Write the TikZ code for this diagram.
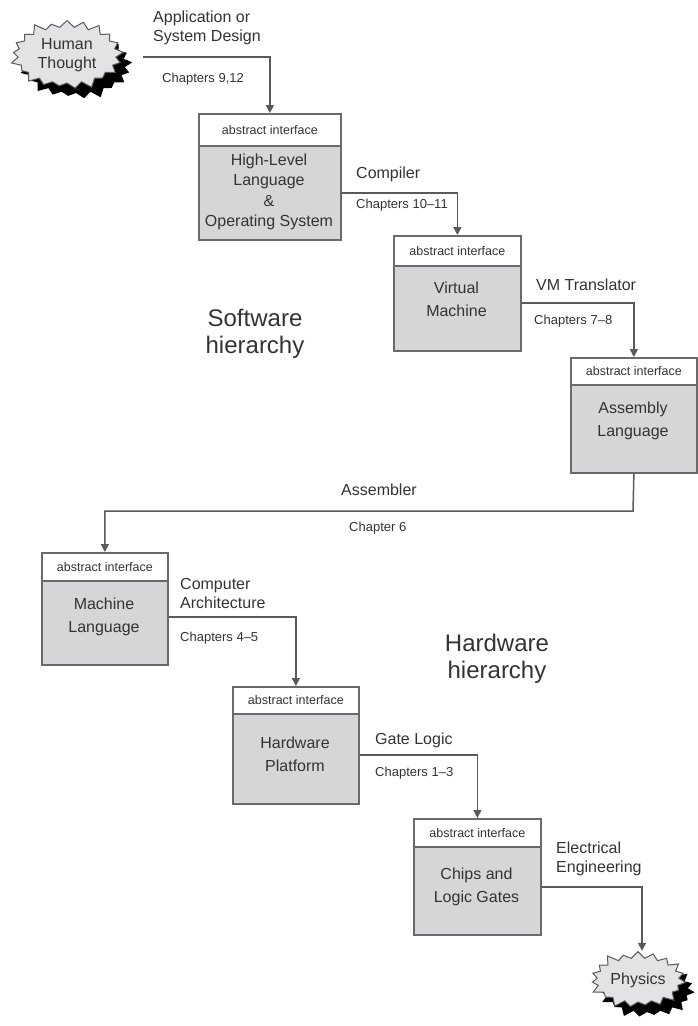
\documentclass[tikz,border=0pt]{standalone}
\usepackage{fontspec}
\setmainfont{Liberation Sans}
\usetikzlibrary{shapes.symbols,arrows.meta,shadows}
\definecolor{linec}{HTML}{5A5A5A}
\definecolor{boxline}{HTML}{6A6A6A}
\definecolor{boxfill}{HTML}{D6D6D9}
\definecolor{txt}{HTML}{333333}
\definecolor{burstfill}{HTML}{E3E3E5}
\begin{document}
\begin{tikzpicture}[x=1pt,y=-1pt,
  conn/.style={draw=linec, line width=1.5pt, -{Triangle[length=8pt,width=8pt]}},
  hdr/.style={draw=boxline, line width=1.8pt, fill=white, anchor=north west,
    inner sep=0pt, text=txt, font=\fontsize{12.5}{15}\selectfont},
  bodybox/.style={draw=boxline, line width=1.8pt, fill=boxfill, anchor=north west, inner sep=0pt},
  bodytext/.style={text=txt, align=center, inner sep=0pt, font=\fontsize{16}{23}\selectfont},
  lab/.style={text=txt, align=left, anchor=west, inner sep=0pt, font=\fontsize{16}{19}\selectfont},
  chap/.style={text=txt, anchor=west, inner sep=0pt, font=\fontsize{13}{15}\selectfont},
  big/.style={text=txt, align=center, inner sep=0pt, font=\fontsize{24}{27}\selectfont},
  burst/.style={starburst, draw=linec, line width=1pt, fill=burstfill, text=txt, align=center,
    font=\fontsize{16}{19}\selectfont, inner sep=0pt,
    general shadow={fill=black, shadow xshift=9pt, shadow yshift=-10pt}}
]
\useasboundingbox (0,0) rectangle (698,1026);

% starbursts
\node[burst, minimum width=116pt, minimum height=74pt, starburst points=21,
  starburst point height=9pt] (ht) at (67,55) {Human\\Thought};
\node[burst, minimum width=100pt, minimum height=62pt, starburst points=19,
  starburst point height=9pt] (ph) at (638,980) {Physics};

% boxes
\node[hdr, minimum width=142pt, minimum height=32pt] (h1) at (198,113) {abstract interface};
\node[bodybox, minimum width=142pt, minimum height=94pt] (b1) at (198,145) {};
\node[bodytext, font=\fontsize{16}{20.3}\selectfont] (t1) at (269,192) {High-Level\\Language\\\&\\Operating System};

\node[hdr, minimum width=127pt, minimum height=30pt] (h2) at (393,235) {abstract interface};
\node[bodybox, minimum width=127pt, minimum height=85pt] (b2) at (393,265) {};
\node[bodytext] (t2) at (456.5,299) {Virtual\\Machine};

\node[hdr, minimum width=126pt, minimum height=27pt] (h3) at (570,357) {abstract interface};
\node[bodybox, minimum width=126pt, minimum height=88pt] (b3) at (570,384) {};
\node[bodytext] (t3) at (633,421) {Assembly\\Language};

\node[hdr, minimum width=126pt, minimum height=28pt] (h4) at (41,552) {abstract interface};
\node[bodybox, minimum width=126pt, minimum height=84pt] (b4) at (41,580) {};
\node[bodytext] (t4) at (104,617) {Machine\\Language};

\node[hdr, minimum width=126pt, minimum height=27pt] (h5) at (232,686) {abstract interface};
\node[bodybox, minimum width=126pt, minimum height=90pt] (b5) at (232,713) {};
\node[bodytext] (t5) at (295,754) {Hardware\\Platform};

\node[hdr, minimum width=127pt, minimum height=28pt] (h6) at (413,818) {abstract interface};
\node[bodybox, minimum width=127pt, minimum height=88pt] (b6) at (413,846) {};
\node[bodytext] (t6) at (476.5,887) {Chips and\\Logic Gates};

% connectors
\coordinate (s0) at (143,57);
\draw[conn] (s0) -| (h1.north);
\draw[conn] (b1.east) -| (h2.north);
\draw[conn] (b2.east |- 0,303) -| (h3.north);
\draw[conn] (b3.south) -- (633,511) -| (h4.north);
\draw[conn] (b4.east |- 0,617) -| (h5.north);
\draw[conn] (b5.east |- 0,755) -| (h6.north);
\draw[conn] (b6.east |- 0,887) -| ([xshift=4pt]ph.north);

% labels
\node[lab] (l0) at (153,27.5) {Application or\\System Design};
\node[chap] (c0) at (162,79) {Chapters 9,12};
\node[lab] (l1) at (356,174) {Compiler};
\node[chap] (c1) at (356,205) {Chapters 10--11};
\node[lab] (l2) at (536,285) {VM Translator};
\node[chap] (c2) at (534,321) {Chapters 7--8};
\node[lab] (l3) at (341,490) {Assembler};
\node[chap] (c3) at (349,528) {Chapter 6};
\node[lab] (l4) at (180,593.5) {Computer\\Architecture};
\node[chap] (c4) at (180,638) {Chapters 4--5};
\node[lab] (l5) at (375,740) {Gate Logic};
\node[chap] (c5) at (375,773) {Chapters 1--3};
\node[lab] (l6) at (556,859) {Electrical\\Engineering};

\node[big] (sw) at (255,333.5) {Software\\hierarchy};
\node[big] (hw) at (497,659) {Hardware\\hierarchy};
\end{tikzpicture}
\end{document}
